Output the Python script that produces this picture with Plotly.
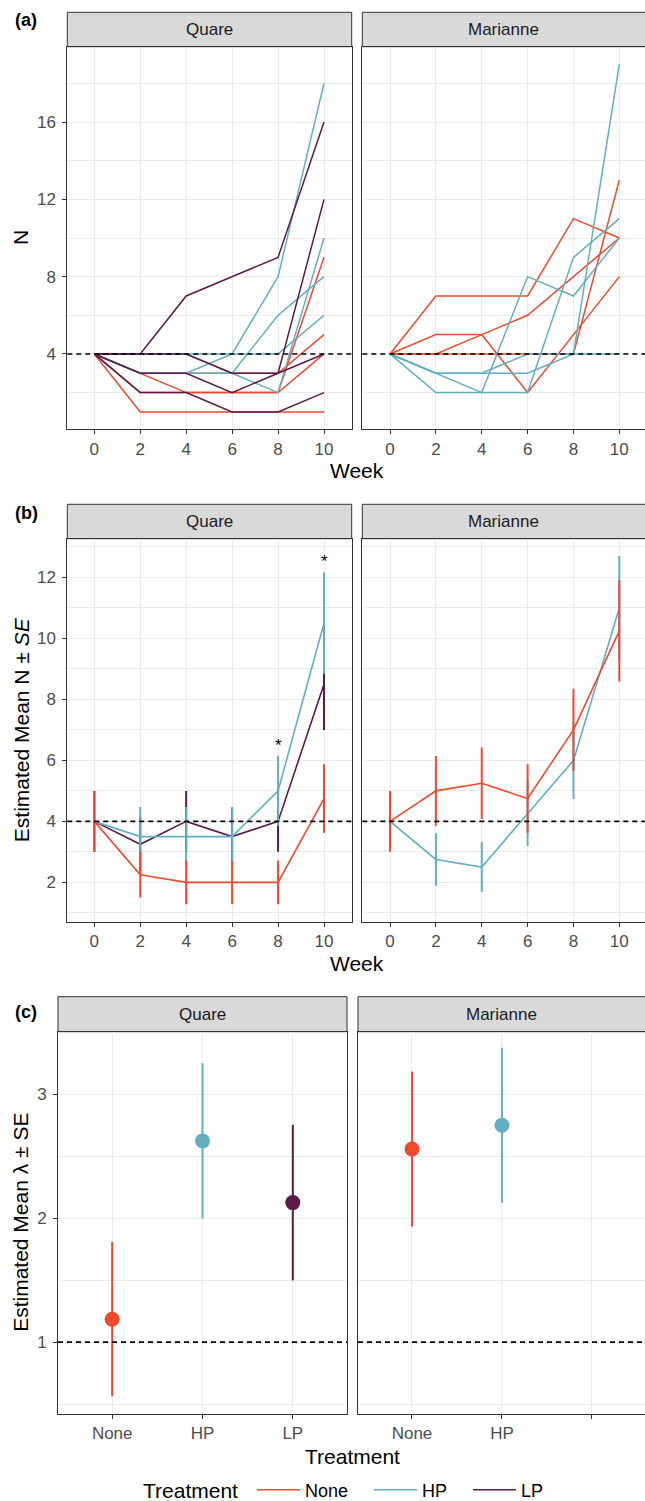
import plotly.graph_objects as go

# ---------------- data ----------------
weeks = [0, 2, 4, 6, 8, 10]
groups = ["None", "HP", "LP"]
sites = ["Quare", "Marianne"]

# panel (a): individual replicate trajectories
quare_none = [[4, 1, 1, 1, 1, 1], [4, 3, 2, 2, 2, 9], [4, 3, 3, 3, 3, 5], [4, 2, 2, 2, 2, 4]]
quare_hp = [[4, 3, 3, 4, 8, 18], [4, 3, 3, 3, 2, 10], [4, 4, 4, 3, 6, 8], [4, 4, 4, 4, 4, 6]]
quare_lp = [[4, 4, 7, 8, 9, 16], [4, 4, 4, 3, 3, 12], [4, 3, 3, 2, 3, 4], [4, 2, 2, 1, 1, 2]]
mar_none = [[4, 7, 7, 7, 11, 10], [4, 5, 5, 2, 5, 8], [4, 4, 5, 6, 8, 10], [4, 4, 4, 4, 4, 13]]
mar_hp = [[4, 3, 2, 8, 7, 10], [4, 3, 3, 3, 4, 4], [4, 3, 3, 4, 4, 19], [4, 2, 2, 2, 9, 11]]

# panel (b): estimated mean N and SE
quare_b_none_mean = [4, 2.25, 2, 2, 2, 4.75]
quare_b_none_se = [1.0, 0.75, 0.72, 0.72, 0.72, 1.12]
quare_b_hp_mean = [4, 3.5, 3.5, 3.5, 5, 10.5]
quare_b_hp_se = [1.0, 0.97, 0.97, 0.97, 1.15, 1.66]
quare_b_lp_mean = [4, 3.25, 4, 3.5, 4, 8.5]
quare_b_lp_se = [1.0, 0.9, 1.0, 0.94, 1.0, 1.5]
mar_b_none_mean = [4, 5, 5.25, 4.75, 7, 10.25]
mar_b_none_se = [1.0, 1.14, 1.17, 1.12, 1.35, 1.66]
mar_b_hp_mean = [4, 2.75, 2.5, 4.25, 6, 11]
mar_b_hp_se = [1.0, 0.86, 0.82, 1.06, 1.27, 1.7]
star_weeks = [8, 10]          # significant HP weeks (Quare)

# panel (c): estimated mean lambda and SE
treat_labels_quare = ["None", "HP", "LP"]
treat_labels_mar = ["None", "HP", ""]
quare_c_mean = [1.185, 2.624, 2.126]
quare_c_se = [0.622, 0.626, 0.628]
mar_c_mean = [2.559, 2.75]
mar_c_se = [0.625, 0.625]

# ---------------- style ----------------
W, H = 645, 1501
FONT = "Liberation Sans, Arial, sans-serif"
COL = {"None": "#EE4A2D", "HP": "#62AEC3", "LP": "#5C1A4B"}
GRID = "#EBEBEB"
BORDER = "#333333"


def fx(p):
    return p / W


def fy(p):
    return 1 - p / H


QX_AB = [fx(67.3), fx(351.7)]
MX_AB = [fx(362.3), 1.0]
QX_C = [fx(58), fx(347)]
MX_C = [fx(358), 1.0]
Y_A = [fy(429.3), fy(46.7)]
Y_B = [fy(921.7), fy(538.7)]
Y_C = [fy(1414), fy(1031.7)]
STRIPS = [(12.3, 46.7), (504.3, 538.7), (996.7, 1031.7)]
LEGEND_OF = {"None": "legend", "HP": "legend2", "LP": "legend3"}
LEGEND_X = {"legend": 252, "legend2": 369, "legend3": 468}
LEGEND_Y = 1490

fig = go.Figure()

# ---- panel (a) ----
first = {g: True for g in groups}
for xa, ya, series in [("x", "y", [("None", quare_none), ("HP", quare_hp), ("LP", quare_lp)]),
                       ("x2", "y2", [("None", mar_none), ("HP", mar_hp)])]:
    for g, reps in series:
        for r in reps:
            fig.add_trace(go.Scatter(x=weeks, y=r, mode="lines", xaxis=xa, yaxis=ya,
                                     line=dict(color=COL[g], width=1.5),
                                     name=g, legendgroup=g, showlegend=first[g],
                                     legend=LEGEND_OF[g], hoverinfo="skip"))
            first[g] = False

# ---- panel (b) ----  (drawing order LP, HP, None)
for xa, ya, series in [("x3", "y3", [("LP", quare_b_lp_mean, quare_b_lp_se),
                                     ("HP", quare_b_hp_mean, quare_b_hp_se),
                                     ("None", quare_b_none_mean, quare_b_none_se)]),
                       ("x4", "y4", [("HP", mar_b_hp_mean, mar_b_hp_se),
                                     ("None", mar_b_none_mean, mar_b_none_se)])]:
    for g, m, se in series:
        fig.add_trace(go.Scatter(x=weeks, y=m, mode="lines", xaxis=xa, yaxis=ya,
                                 line=dict(color=COL[g], width=1.6),
                                 error_y=dict(type="data", array=se, visible=True,
                                              color=COL[g], thickness=2, width=0),
                                 showlegend=False, hoverinfo="skip"))

# ---- panel (c) ----
for xa, ya, means, ses in [("x5", "y5", quare_c_mean, quare_c_se),
                           ("x6", "y6", mar_c_mean, mar_c_se)]:
    for i, (m, s) in enumerate(zip(means, ses)):
        g = groups[i]
        fig.add_trace(go.Scatter(x=[i + 1], y=[m], mode="markers", xaxis=xa, yaxis=ya,
                                 marker=dict(color=COL[g], size=15),
                                 error_y=dict(type="data", array=[s], visible=True,
                                              color=COL[g], thickness=2, width=0),
                                 showlegend=False, hoverinfo="skip"))

# ---------------- axes ----------------
tickfont = dict(family=FONT, size=17, color="#4D4D4D")


def xaxis(domain, anchor, rng, tickvals=None, ticktext=None, weekly=True):
    d = dict(domain=domain, anchor=anchor, range=rng, showgrid=True, gridcolor=GRID,
             gridwidth=1, zeroline=False, showline=True, mirror=True, linecolor=BORDER,
             linewidth=1, ticks="outside", ticklen=4, tickcolor=BORDER, tickfont=tickfont,
             fixedrange=True)
    if weekly:
        d.update(tickmode="array", tickvals=weeks, ticktext=[str(w) for w in weeks])
    else:
        d.update(tickmode="array", tickvals=tickvals, ticktext=ticktext)
    return d


def yaxis(domain, anchor, rng, dtick, mdtick, left=True):
    d = dict(domain=domain, anchor=anchor, range=rng, showgrid=True, gridcolor=GRID,
             gridwidth=1, zeroline=False, showline=True, mirror=left, linecolor=BORDER,
             linewidth=1, tick0=0, dtick=dtick, fixedrange=True,
             minor=dict(showgrid=True, dtick=mdtick, tick0=0, gridcolor=GRID, gridwidth=0.6))
    if left:
        d.update(ticks="outside", ticklen=4, tickcolor=BORDER, tickfont=tickfont,
                 ticklabelstandoff=3)
    else:
        d.update(ticks="", showticklabels=False)
    return d


QR = [-1.175, 11.206]
MR = [-1.21, 11.12]
fig.update_layout(
    xaxis=xaxis(QX_AB, "y", QR), yaxis=yaxis(Y_A, "x", [0.1, 19.9], 4, 2),
    xaxis2=xaxis(MX_AB, "y2", MR), yaxis2=yaxis(Y_A, "x2", [0.1, 19.9], 4, 2, left=False),
    xaxis3=xaxis(QX_AB, "y3", QR), yaxis3=yaxis(Y_B, "x3", [0.71, 13.27], 2, 1),
    xaxis4=xaxis(MX_AB, "y4", MR), yaxis4=yaxis(Y_B, "x4", [0.71, 13.27], 2, 1, left=False),
    xaxis5=xaxis(QX_C, "y5", [0.4, 3.6], [1, 2, 3], treat_labels_quare, weekly=False),
    yaxis5=yaxis(Y_C, "x5", [0.42, 3.505], 1, 0.5),
    xaxis6=xaxis(MX_C, "y6", [0.4, 3.59], [1, 2, 3], treat_labels_mar, weekly=False),
    yaxis6=yaxis(Y_C, "x6", [0.42, 3.505], 1, 0.5, left=False),
)

# ---------------- shapes ----------------
shapes = []
# reference lines
for xa, ya, v in [("x", "y", 4), ("x2", "y2", 4), ("x3", "y3", 4), ("x4", "y4", 4),
                  ("x5", "y5", 1), ("x6", "y6", 1)]:
    shapes.append(dict(type="line", xref=xa + " domain", yref=ya, x0=0, x1=1, y0=v, y1=v,
                       line=dict(color="black", width=1.6, dash="5px,4px"), layer="above"))
# strips
strip_x = [(QX_AB, MX_AB), (QX_AB, MX_AB), (QX_C, MX_C)]
annotations = []
for (top, bot), (qx, mx) in zip(STRIPS, strip_x):
    for dom, name in [(qx, "Quare"), (mx, "Marianne")]:
        x1 = dom[1] if dom[1] < 1 else 1.01
        shapes.append(dict(type="rect", xref="paper", yref="paper", x0=dom[0], x1=x1,
                           y0=fy(bot), y1=fy(top), fillcolor="#D9D9D9",
                           line=dict(color=BORDER, width=1), layer="below"))
        annotations.append(dict(xref="paper", yref="paper", x=(dom[0] + min(dom[1], fx(647))) / 2,
                                y=fy((top + bot) / 2), text=name, showarrow=False,
                                font=dict(family=FONT, size=17, color="#1A1A1A"),
                                xanchor="center", yanchor="middle"))

# panel tags
for tag, yp in [("(a)", 20), ("(b)", 513), ("(c)", 1012)]:
    annotations.append(dict(xref="paper", yref="paper", x=fx(26), y=fy(yp), text="<b>%s</b>" % tag,
                            showarrow=False, font=dict(family=FONT, size=18, color="black"),
                            xanchor="center", yanchor="middle"))

# axis titles
title_font = dict(family=FONT, size=21, color="black")
for text, yp in [("N", (429.3 + 46.7) / 2), ("Estimated Mean N ± <i>SE</i>", (921.7 + 538.7) / 2),
                 ("Estimated Mean λ ± SE", (1414 + 1031.7) / 2)]:
    annotations.append(dict(xref="paper", yref="paper", x=fx(21), y=fy(yp), text=text,
                            textangle=-90, showarrow=False, font=title_font,
                            xanchor="center", yanchor="middle"))
for text, xp, yp in [("Week", 357, 471), ("Week", 357, 963), ("Treatment", 352, 1456)]:
    annotations.append(dict(xref="paper", yref="paper", x=fx(xp), y=fy(yp), text=text,
                            showarrow=False, font=title_font, xanchor="center", yanchor="middle"))
# legend title
annotations.append(dict(xref="paper", yref="paper", x=fx(141), y=fy(LEGEND_Y), text="Treatment",
                        showarrow=False, font=title_font, xanchor="left", yanchor="middle"))

# significance stars (above HP upper error in Quare)
for w in star_weeks:
    i = weeks.index(w)
    annotations.append(dict(xref="x3", yref="y3", x=w,
                            y=quare_b_hp_mean[i] + quare_b_hp_se[i] + 0.35,
                            text="*", showarrow=False,
                            font=dict(family=FONT, size=17, color="black"),
                            xanchor="center", yanchor="middle"))

leg_font = dict(family=FONT, size=18, color="black")


def legend_box(key):
    return dict(orientation="h", xref="container", yref="container",
                x=fx(LEGEND_X[key]), xanchor="left", y=fy(LEGEND_Y), yanchor="middle",
                font=leg_font, bgcolor="rgba(0,0,0,0)", itemwidth=43)


fig.update_layout(
    width=W, height=H, margin=dict(l=0, r=0, t=0, b=0, autoexpand=False),
    paper_bgcolor="white", plot_bgcolor="white",
    shapes=shapes, annotations=annotations,
    showlegend=True,
    legend=legend_box("legend"),
    legend2=legend_box("legend2"),
    legend3=legend_box("legend3"),
    font=dict(family=FONT),
)

fig.write_html("out.html", config={"displayModeBar": False},
               post_script="document.body.style.margin='0';document.body.style.overflow='hidden';")
